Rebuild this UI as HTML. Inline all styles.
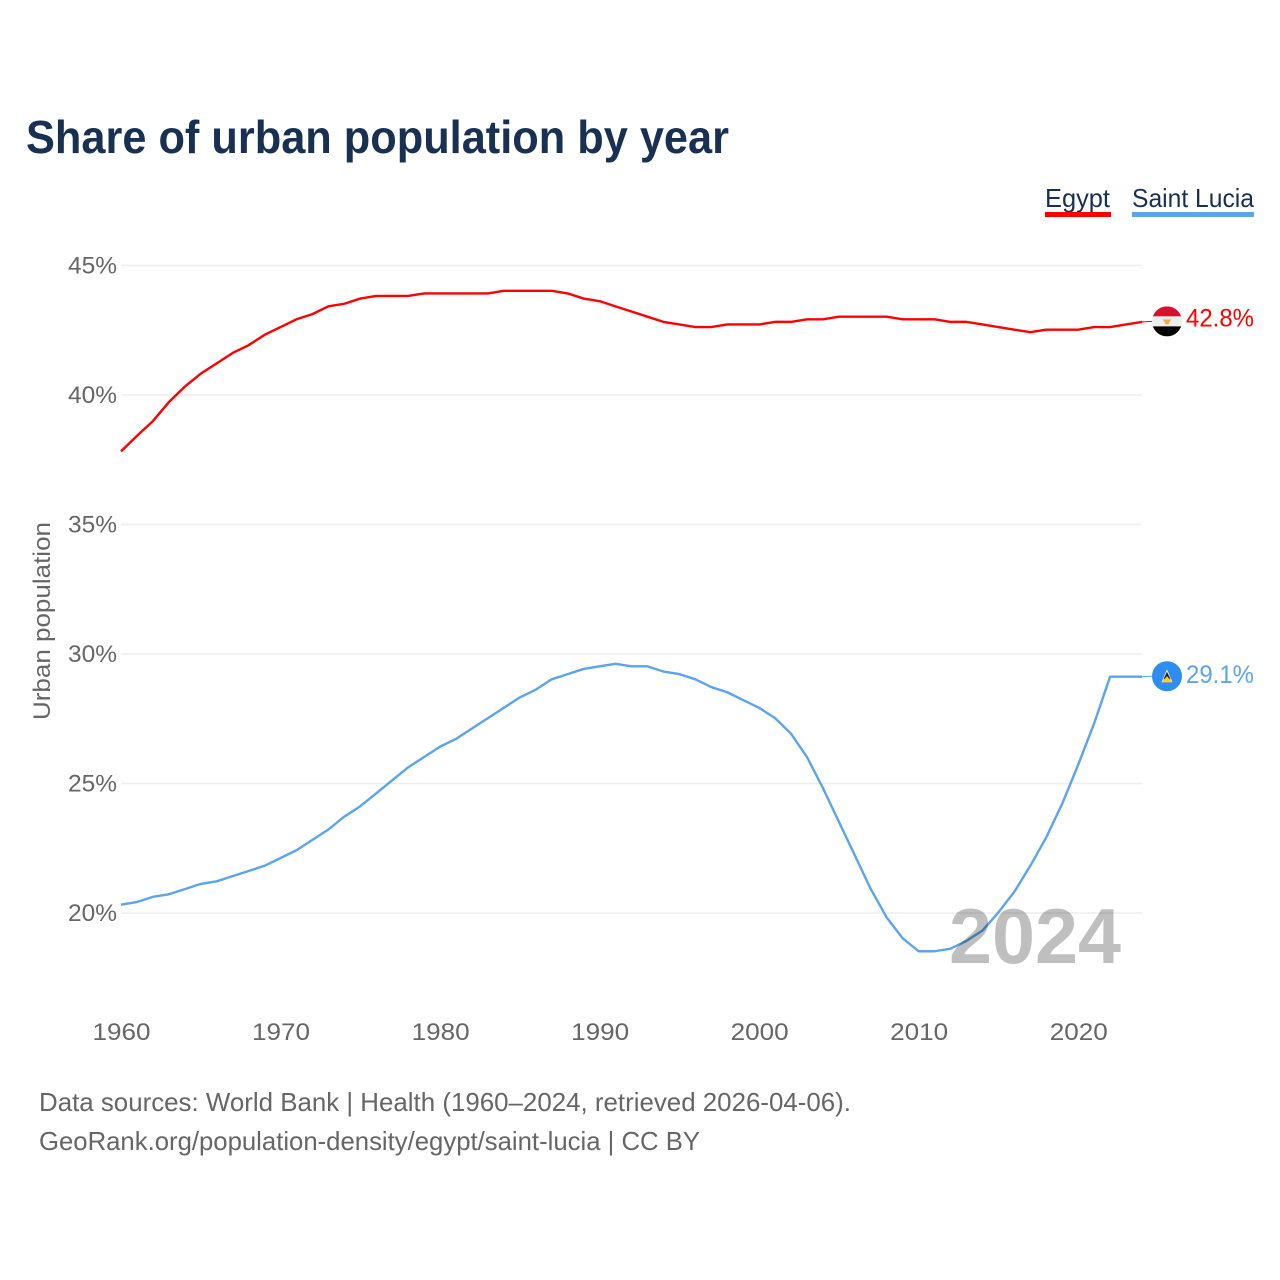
<!DOCTYPE html>
<html lang="en">
<head>
<meta charset="utf-8">
<title>Share of urban population by year</title>
<style>
html,body{margin:0;padding:0;background:#fff;}
svg{display:block;}
text{font-family:"Liberation Sans",sans-serif;}
</style>
</head>
<body>
<svg id="chart" xmlns="http://www.w3.org/2000/svg" width="1280" height="1280" viewBox="0 0 1280 1280">
  <rect x="0" y="0" width="1280" height="1280" fill="#fff"/>
  <text x="26" y="153" font-size="46" font-weight="700" fill="#183153" textLength="703" lengthAdjust="spacingAndGlyphs">Share of urban population by year</text>
  <g>
    <text x="1045" y="207" font-size="26" fill="#183153" textLength="65" lengthAdjust="spacingAndGlyphs">Egypt</text>
    <rect x="1045" y="212" width="66" height="5" fill="#ff0000"/>
  </g>
  <g>
    <text x="1132" y="207" font-size="26" fill="#183153" textLength="122" lengthAdjust="spacingAndGlyphs">Saint Lucia</text>
    <rect x="1132" y="212" width="122" height="5" fill="#5ba4ee"/>
  </g>
  <text transform="translate(50 720) rotate(-90)" x="0" y="0" font-size="24" fill="#666" textLength="198" lengthAdjust="spacingAndGlyphs">Urban population</text>
  <g id="grid"></g>
  <g id="yticks"></g>
  <g id="xticks"></g>
  <g id="series" transform="translate(0 -0.6)"></g>
  <g id="ends"></g>
  <text x="949" y="963" font-size="78" font-weight="700" fill="#000" fill-opacity="0.25" textLength="172" lengthAdjust="spacingAndGlyphs">2024</text>
  <text x="39" y="1111" font-size="26" fill="#666" textLength="812" lengthAdjust="spacingAndGlyphs">Data sources: World Bank | Health (1960–2024, retrieved 2026-04-06).</text>
  <text x="39" y="1150" font-size="26" fill="#666" textLength="661" lengthAdjust="spacingAndGlyphs">GeoRank.org/population-density/egypt/saint-lucia | CC BY</text>
</svg>
<script>
const years = [];
for (let yr = 1960; yr <= 2024; yr++) years.push(yr);
const egyptValues = [37.8,38.4,38.97,39.7,40.3,40.8,41.2,41.6,41.9,42.3,42.6,42.9,43.1,43.4,43.5,43.7,43.8,43.8,43.8,43.9,43.9,43.9,43.9,43.9,44.0,44.0,44.0,44.0,43.9,43.7,43.6,43.4,43.2,43.0,42.8,42.7,42.6,42.6,42.7,42.7,42.7,42.8,42.8,42.9,42.9,43.0,43.0,43.0,43.0,42.9,42.9,42.9,42.8,42.8,42.7,42.6,42.5,42.4,42.5,42.5,42.5,42.6,42.6,42.7,42.8];
const saintLuciaValues = [20.3,20.4,20.6,20.7,20.9,21.1,21.2,21.4,21.6,21.8,22.1,22.4,22.8,23.2,23.7,24.1,24.6,25.1,25.6,26.0,26.4,26.7,27.1,27.5,27.9,28.3,28.6,29.0,29.2,29.4,29.5,29.6,29.5,29.5,29.3,29.2,29.0,28.7,28.5,28.2,27.9,27.5,26.9,26.0,24.8,23.5,22.2,20.9,19.8,19.0,18.5,18.5,18.6,18.9,19.3,20.0,20.8,21.8,22.9,24.2,25.7,27.3,29.1,29.1,29.1];
const yTickValues = [20,25,30,35,40,45];
const xTickValues = [1960,1970,1980,1990,2000,2010,2020];

const NS = 'http://www.w3.org/2000/svg';
const xScale = function (yr) { return 121 + (yr - 1960) * (1142 - 121) / 64; };
const yScale = function (v) { return 913 - (v - 20) * (913 - 265.5) / 25; };

function make(tag, parent) {
  const el = document.createElementNS(NS, tag);
  parent.appendChild(el);
  return el;
}

const grid = document.getElementById('grid');
const yticks = document.getElementById('yticks');
const xticks = document.getElementById('xticks');
const seriesGroup = document.getElementById('series');
const ends = document.getElementById('ends');

yTickValues.forEach(function (v) {
  const line = make('line', grid);
  
  
  line.setAttribute('x1', 121);
  line.setAttribute('x2', 1142);
  line.setAttribute('y1', yScale(v));
  line.setAttribute('y2', yScale(v));
  line.setAttribute('stroke', '#eeeeee');
  line.setAttribute('stroke-width', 1.6);

  const t = make('text', yticks);
  
  
  t.setAttribute('x', 68);
  t.setAttribute('y', yScale(v) + 8);
  t.setAttribute('font-size', 24);
  t.setAttribute('fill', '#666');
  t.setAttribute('textLength', 49);
  t.setAttribute('lengthAdjust', 'spacingAndGlyphs');
  t.textContent = v + '%';
});

xTickValues.forEach(function (yr) {
  const t = make('text', xticks);
  
  
  t.setAttribute('x', xScale(yr) - 28.5);
  t.setAttribute('y', 1040);
  t.setAttribute('font-size', 24);
  t.setAttribute('fill', '#666');
  t.setAttribute('textLength', 58);
  t.setAttribute('lengthAdjust', 'spacingAndGlyphs');
  t.textContent = yr;
});

function drawSeries(values, color, name) {
  const path = make('path', seriesGroup);
  
  
  path.setAttribute('d', values.map(function (v, i) {
    return (i ? 'L' : 'M') + xScale(years[i]).toFixed(2) + ' ' + yScale(v).toFixed(2);
  }).join(' '));
  path.setAttribute('fill', 'none');
  path.setAttribute('stroke', color);
  path.setAttribute('stroke-width', 2.4);
  path.setAttribute('stroke-linejoin', 'round');
}

function drawEnd(values, color, name, dy, flagBuilder) {
  const last = values[values.length - 1];
  const px = yScale(last) - 0.6;
  const cy = px + dy;

  const leader = make('line', ends);
  
  
  leader.setAttribute('x1', 1142);
  leader.setAttribute('x2', 1152);
  leader.setAttribute('y1', px);
  leader.setAttribute('y2', cy);
  leader.setAttribute('stroke', color);
  leader.setAttribute('stroke-width', 1);

  const flag = make('g', ends);
  
  
  flag.setAttribute('transform', 'translate(1167 ' + cy + ')');
  flagBuilder(flag);

  const label = make('text', ends);
  
  
  label.setAttribute('x', 1186);
  label.setAttribute('y', cy + 5 + (name === 'egypt' ? 0 : 2));
  label.setAttribute('font-size', 25);
  label.setAttribute('fill', color);
  label.setAttribute('textLength', 68);
  label.setAttribute('lengthAdjust', 'spacingAndGlyphs');
  label.textContent = last.toFixed(1) + '%';
}

function egyptFlag(g) {
  const defs = make('defs', g);
  const clip = make('clipPath', defs);
  clip.setAttribute('id', 'egypt-clip');
  const cc = make('circle', clip);
  cc.setAttribute('r', 15);
  const body = make('g', g);
  body.setAttribute('clip-path', 'url(#egypt-clip)');
  [['#d90f2c', -15, 10], ['#eeeeee', -5, 10], ['#000000', 5, 10]].forEach(function (b) {
    const r = make('rect', body);
    r.setAttribute('x', -15);
    r.setAttribute('y', b[1]);
    r.setAttribute('width', 30);
    r.setAttribute('height', b[2]);
    r.setAttribute('fill', b[0]);
  });
  const emblem = make('path', body);
  emblem.setAttribute('d', 'M-4.5 -2 L4.5 -2 L2.5 0.5 L1.5 3 L-1.5 3 L-2.5 0.5 Z');
  emblem.setAttribute('fill', '#f5a742');
}

function luciaFlag(g) {
  const c = make('circle', g);
  c.setAttribute('r', 15);
  c.setAttribute('fill', '#2f8cf2');
  const white = make('path', g);
  white.setAttribute('d', 'M0 -7 L5.5 6 L-5.5 6 Z');
  white.setAttribute('fill', '#f4f4f4');
  const black = make('path', g);
  black.setAttribute('d', 'M0 -4.5 L3.6 3 L-3.6 3 Z');
  black.setAttribute('fill', '#222');
  const yellow = make('path', g);
  yellow.setAttribute('d', 'M0 0 L5.5 6 L-5.5 6 Z');
  yellow.setAttribute('fill', '#fcd116');
}

drawSeries(saintLuciaValues, '#5ba4ee', 'saint-lucia');
drawSeries(egyptValues, '#ff0000', 'egypt');
drawEnd(egyptValues, '#ff0000', 'egypt', -0.5, egyptFlag);
drawEnd(saintLuciaValues, '#5ba4ee', 'saint-lucia', -0.5, luciaFlag);
</script>
</body>
</html>
